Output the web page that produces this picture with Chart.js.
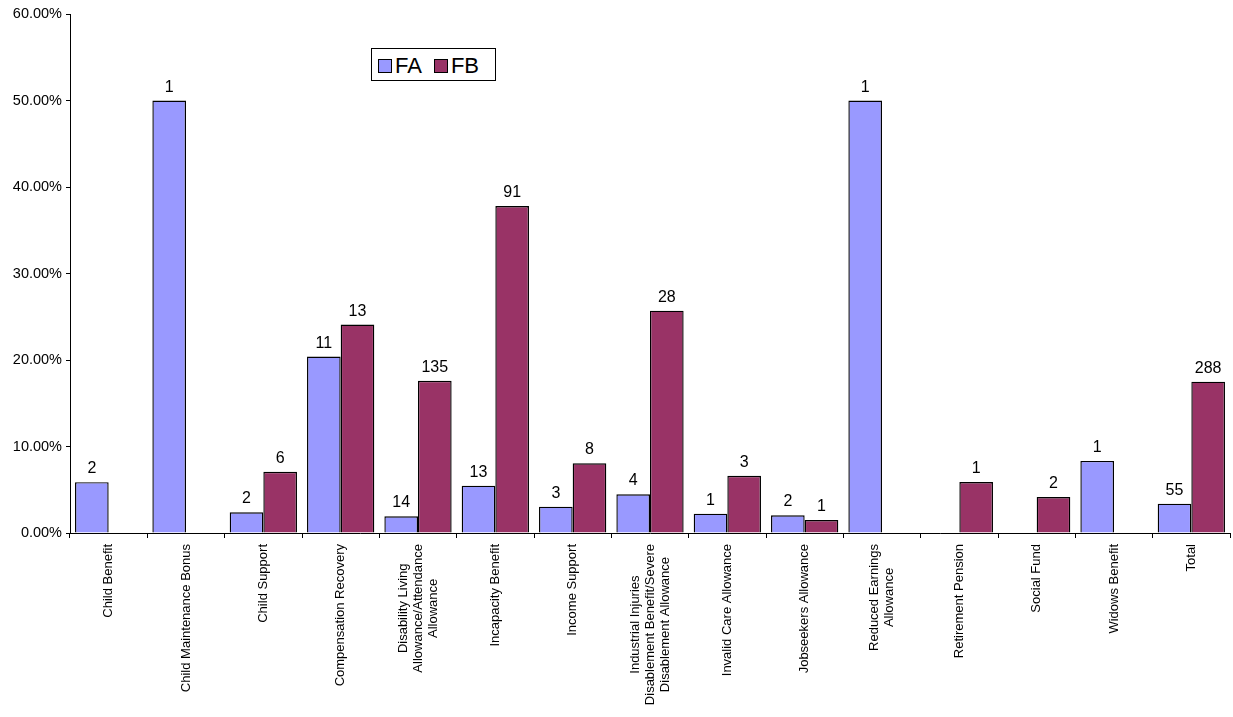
<!DOCTYPE html>
<html>
<head>
<meta charset="utf-8">
<script src="https://cdn.jsdelivr.net/npm/chart.js@4/dist/chart.umd.min.js"></script>
<style>
  html, body { margin: 0; padding: 0; background: #fff; }
  #wrap { position: relative; width: 1233px; height: 717px; }
  #legend {
    position: absolute; left: 371px; top: 48px; width: 125px; height: 33px;
    border: 1px solid #000; background: #fff; box-sizing: border-box;
    font: 22px Arial, "Liberation Sans", sans-serif; color: #000;
    display: flex; align-items: center; padding-left: 6px; padding-top: 2px;
  }
  #legend .item { display: flex; align-items: center; margin-right: 12px; }
  #legend .sw { width: 12px; height: 12px; border: 1px solid #000; margin-right: 3px; }
</style>
</head>
<body>
<div id="wrap">
  <canvas id="chart" width="1233" height="717"></canvas>
  <div id="legend"></div>
</div>
<script>
const categories = [
  ["Child Benefit"],
  ["Child Maintenance Bonus"],
  ["Child Support"],
  ["Compensation Recovery"],
  ["Disability Living", "Allowance/Attendance", "Allowance"],
  ["Incapacity Benefit"],
  ["Income Support"],
  ["Industrial Injuries", "Disablement Benefit/Severe", "Disablement Allowance"],
  ["Invalid Care Allowance"],
  ["Jobseekers Allowance"],
  ["Reduced Earnings", "Allowance"],
  ["Retirement Pension"],
  ["Social Fund"],
  ["Widows Benefit"],
  ["Total"]
];

// percentages
const faPct = [5.88, 50.0, 2.4, 20.4, 1.93, 5.47, 3.04, 4.47, 2.23, 2.04, 50.0, null, null, 8.33, 3.39];
const fbPct = [null, null, 7.08, 24.1, 17.6, 37.8, 8.05, 25.7, 6.62, 1.5, null, 5.89, 4.16, null, 17.5];

// counts shown above the bars
const faCount = [2, 1, 2, 11, 14, 13, 3, 4, 1, 2, 1, null, null, 1, 55];
const fbCount = [null, null, 6, 13, 135, 91, 8, 28, 3, 1, null, 1, 2, null, 288];

const yTicks = [0, 10, 20, 30, 40, 50, 60];

const FONT = 'Arial, "Liberation Sans", sans-serif';

const barCounts = {
  id: 'barCounts',
  afterDatasetsDraw(chart) {
    const ctx = chart.ctx;
    ctx.save();
    ctx.font = '16px ' + FONT;
    ctx.fillStyle = '#000';
    ctx.textAlign = 'center';
    ctx.textBaseline = 'alphabetic';
    chart.data.datasets.forEach((ds, di) => {
      const meta = chart.getDatasetMeta(di);
      meta.data.forEach((bar, i) => {
        const n = ds.counts[i];
        if (n == null || ds.data[i] == null) return;
        ctx.fillText(String(n), bar.x, bar.y - 9);
      });
    });
    ctx.restore();
  }
};

// rotated, centred multi-line category labels
const catLabels = {
  id: 'catLabels',
  afterDraw(chart) {
    const ctx = chart.ctx;
    const xs = chart.scales.x;
    ctx.save();
    ctx.font = '13px ' + FONT;
    ctx.fillStyle = '#000';
    ctx.textAlign = 'center';
    ctx.textBaseline = 'middle';
    categories.forEach((lines, i) => {
      const x = xs.getPixelForValue(i);
      const w = Math.max(...lines.map(l => ctx.measureText(l).width));
      ctx.save();
      ctx.translate(x, chart.chartArea.bottom + 11 + w / 2);
      ctx.rotate(-Math.PI / 2);
      lines.forEach((l, j) => {
        ctx.fillText(l, 0, (j - (lines.length - 1) / 2) * 15);
      });
      ctx.restore();
    });
    ctx.restore();
  }
};

const chart = new Chart(document.getElementById('chart'), {
  type: 'bar',
  data: {
    labels: categories.map(c => c.join(' ')),
    datasets: [
      {
        label: 'FA',
        data: faPct,
        counts: faCount,
        backgroundColor: '#9999FF',
        borderColor: '#000',
        borderWidth: 1.4,
        borderSkipped: 'bottom'
      },
      {
        label: 'FB',
        data: fbPct,
        counts: fbCount,
        backgroundColor: '#993366',
        borderColor: '#000',
        borderWidth: 1.4,
        borderSkipped: 'bottom'
      }
    ]
  },
  options: {
    responsive: false,
    animation: false,
    layout: { padding: { top: 14, right: 3, left: 0, bottom: 0 } },
    categoryPercentage: 0.87,
    barPercentage: 1.0,
    plugins: {
      legend: { display: false },
      tooltip: { enabled: false }
    },
    scales: {
      x: {
        grid: {
          offset: true,
          drawOnChartArea: false,
          tickLength: 5,
          color: '#000'
        },
        border: { color: '#000', width: 1 },
        ticks: { display: false },
        afterFit(s) { s.height = 184; }
      },
      y: {
        min: 0,
        max: 60,
        afterBuildTicks(s) { s.ticks = yTicks.map(v => ({ value: v })); },
        grid: {
          drawOnChartArea: false,
          tickLength: 4,
          color: '#000'
        },
        border: { color: '#000', width: 1 },
        ticks: {
          color: '#000',
          padding: 4,
          font: { family: FONT, size: 14.5 },
          callback: v => v.toFixed(2) + '%'
        },
        afterFit(s) { s.width = 70; }
      }
    }
  },
  plugins: [barCounts, catLabels]
});

// legend boxes built from the datasets
document.getElementById('legend').innerHTML = chart.data.datasets
  .map(ds => `<div class="item"><span class="sw" style="background:${ds.backgroundColor}"></span><span>${ds.label}</span></div>`)
  .join('');
</script>
</body>
</html>
